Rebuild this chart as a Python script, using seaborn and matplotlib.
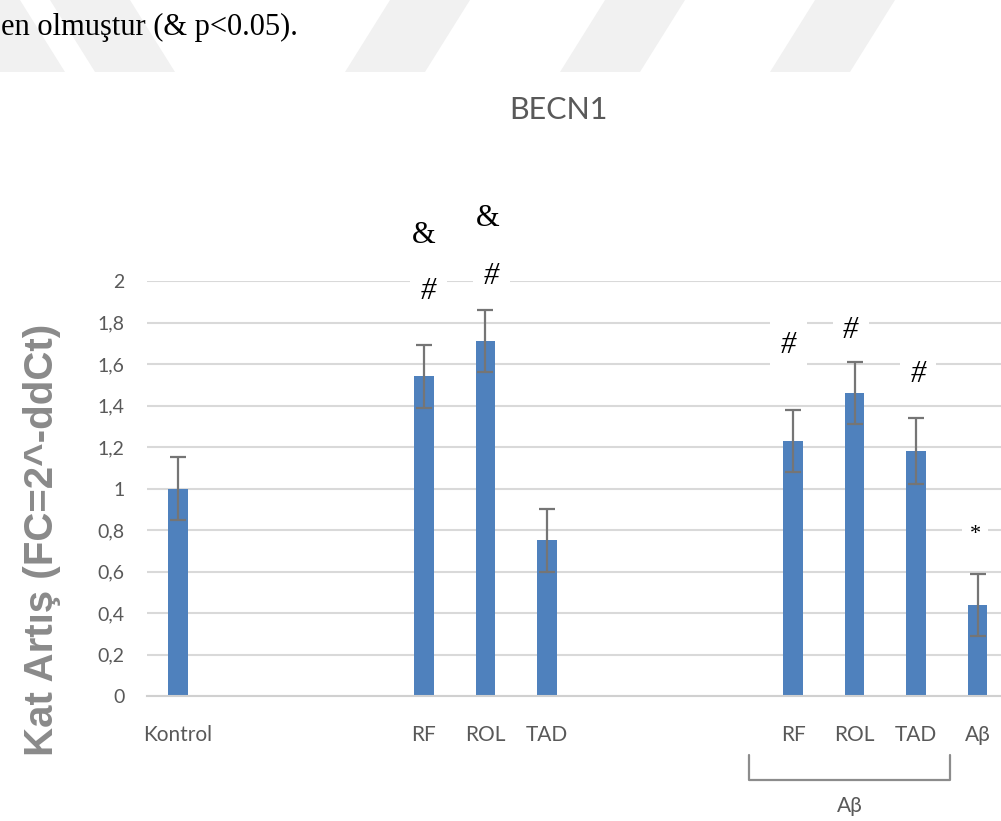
import numpy as np
import pandas as pd
import matplotlib
matplotlib.use("Agg")
import matplotlib.pyplot as plt
from matplotlib.patches import Polygon
from matplotlib.lines import Line2D
from matplotlib.ticker import FuncFormatter
import seaborn as sns

# --- data -------------------------------------------------------------
groups = ["Kontrol", "RF", "ROL", "TAD", "RF", "ROL", "TAD", "Aβ"]
positions = [0, 4, 5, 6, 10, 11, 12, 13]
fold_change = [1.00, 1.54, 1.71, 0.75, 1.23, 1.46, 1.18, 0.44]
sem = [0.15, 0.15, 0.15, 0.15, 0.15, 0.15, 0.16, 0.15]

# significance marks (text, x, y in data units)
mark_text = ["&", "#", "&", "#", "#", "#", "#", "*"]
mark_x = [4.0, 4.08, 5.03, 5.1, 9.93, 10.94, 12.03, 12.96]
mark_y = [2.22, 1.95, 2.30, 2.02, 1.69, 1.76, 1.55, 0.78]

# --- style ------------------------------------------------------------
sns.set_theme(style="white")
plt.rcParams["font.family"] = ["Lato", "DejaVu Sans"]

W, H = 1001, 821
fig = plt.figure(figsize=(W / 100, H / 100), dpi=100)
fig.patch.set_facecolor("white")


def fx(px):
    return px / W


def fy(py):
    return 1 - py / H


# light diagonal bands along the top edge
band_color = "#f1f1f1"
for x0 in [345, 560, 770]:
    fig.patches.append(Polygon(
        [(fx(x0), fy(72)), (fx(x0 + 80), fy(72)), (fx(x0 + 125), fy(0)), (fx(x0 + 45), fy(0))],
        closed=True, transform=fig.transFigure, facecolor=band_color, edgecolor="none", zorder=0))
for x0 in [-60, 50]:
    fig.patches.append(Polygon(
        [(fx(x0), fy(0)), (fx(x0 + 80), fy(0)), (fx(x0 + 125), fy(72)), (fx(x0 + 45), fy(72))],
        closed=True, transform=fig.transFigure, facecolor=band_color, edgecolor="none", zorder=0))

fig.text(fx(1), fy(27), "en olmuştur (& p<0.05).", family="Liberation Serif",
         fontsize=22, color="black", ha="left", va="center", zorder=2)

# --- axes -------------------------------------------------------------
ax = fig.add_axes([fx(147), fy(696), fx(1001) - fx(147), fy(281) - fy(696)])
ax.set_facecolor("none")

df = pd.DataFrame({"pos": positions, "fc": fold_change})
sns.barplot(data=df, x="pos", y="fc", native_scale=True, width=0.32,
            color="#4F81BD", saturation=1, errorbar=None, linewidth=0, ax=ax, zorder=2)
ax.errorbar(positions, fold_change, yerr=sem, fmt="none", ecolor="#757575",
            elinewidth=1.6, capsize=5.5, capthick=1.6, zorder=3)

ax.set_xlim(-0.5, 13.38)
ax.set_ylim(0, 2)
ax.set_yticks(np.arange(0, 2.01, 0.2))
ax.yaxis.set_major_formatter(FuncFormatter(lambda v, _: f"{v:g}".replace(".", ",")))
ax.set_xticks(positions)
ax.set_xticklabels(groups)
ax.set_xlabel("")
ax.set_ylabel("")
ax.yaxis.grid(True, color="#d9d9d9", linewidth=1.5, zorder=0)
ax.set_axisbelow(True)
for side in ["top", "right", "left"]:
    ax.spines[side].set_visible(False)
ax.spines["bottom"].set_color("#d0d0d0")
ax.spines["bottom"].set_linewidth(1.5)
ax.tick_params(axis="y", length=0, pad=16, labelsize=14, labelcolor="#595959")
ax.tick_params(axis="x", length=0, pad=21, labelsize=15, labelcolor="#595959")

for t, x, y in zip(mark_text, mark_x, mark_y):
    ax.text(x, y, t, family="Liberation Serif", fontsize=16 if t == "*" else 22,
            style="italic" if t == "#" else "normal",
            color="black", ha="center", va="center", clip_on=False, zorder=4,
            bbox=dict(boxstyle="square,pad=0.35", fc="white", ec="none"))

# --- titles and bracket ----------------------------------------------
fig.text(fx(558), fy(110), "BECN1", fontsize=22, color="#595959", ha="center", va="center")
fig.text(fx(42), fy(540), "Kat Artış (FC=2^-ddCt)", rotation=90, ha="center", va="center",
         family="Liberation Sans", fontweight="bold", fontsize=29, color="#8a8a8a")

bracket_x = [fx(749), fx(749), fx(950), fx(950)]
bracket_y = [fy(755), fy(780), fy(780), fy(755)]
fig.lines.append(Line2D(bracket_x, bracket_y, transform=fig.transFigure,
                        color="#8c8c8c", linewidth=1.6))
fig.text(fx(850), fy(806), "Aβ", fontsize=15, color="#595959", ha="center", va="center")

fig.savefig("out.png", dpi=100)
